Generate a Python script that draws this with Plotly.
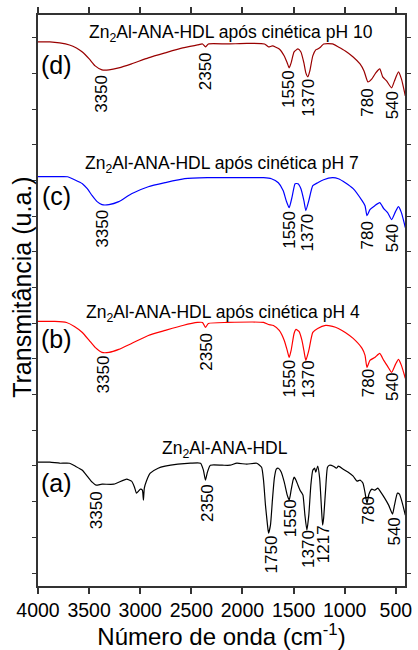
import plotly.graph_objects as go

# FTIR spectra, stacked with vertical offsets (transmittance in arbitrary units)
wn_d = [4000, 3884, 3788, 3692, 3624, 3566, 3499, 3441, 3374, 3306, 3210, 3085, 2921, 2757,
        2584, 2439, 2391, 2362, 2333, 2150, 1958, 1784, 1745, 1707, 1640, 1591, 1562, 1543,
        1524, 1495, 1457, 1428, 1399, 1380, 1360, 1341, 1312, 1283, 1264, 1235, 1206, 1119,
        1062, 994, 917, 850, 811, 773, 734, 696, 657, 628, 590, 541, 513, 474, 445, 407]
t_d = [545, 545, 544, 542, 539, 535, 528, 521, 517, 517, 519, 523, 529, 534,
       539, 542, 543, 540, 543, 543, 543.5, 543, 540, 541, 538, 531, 524, 519,
       524, 535, 538, 535, 524, 514, 510, 516, 531, 537, 538, 540, 543, 543,
       540, 536, 530, 523, 516, 505, 508, 514, 518, 510, 506, 499, 506, 515, 508, 491]

wn_c = [4000, 3836, 3711, 3644, 3566, 3518, 3470, 3422, 3374, 3306, 3210, 3085, 2921, 2757,
        2565, 2343, 2054, 1794, 1717, 1649, 1601, 1572, 1543, 1514, 1485, 1457, 1428, 1399,
        1380, 1351, 1312, 1264, 1206, 1119, 1062, 994, 917, 830, 801, 782, 753, 705, 657,
        618, 580, 541, 503, 474, 445, 407]
t_c = [410, 410, 410, 407, 403, 398, 391, 385, 382, 382, 385, 393, 400, 404,
       408, 409, 409, 409, 408, 404, 396, 386, 379, 390, 403, 403, 398, 386,
       376, 386, 401, 404, 407, 409, 408, 404, 398, 386, 381, 371, 377, 381, 384,
       378, 374, 367, 375, 380, 374, 359]

wn_b = [4000, 3836, 3721, 3644, 3566, 3499, 3441, 3374, 3306, 3210, 3085, 2921, 2757, 2584,
        2439, 2391, 2362, 2333, 2150, 1794, 1745, 1697, 1640, 1591, 1562, 1543, 1524, 1495,
        1476, 1447, 1418, 1399, 1380, 1351, 1312, 1264, 1187, 1119, 1062, 994, 917, 830,
        801, 782, 753, 705, 657, 618, 580, 541, 503, 474, 445, 407]
t_b = [265, 265, 264, 260, 254, 246, 239, 234, 234, 237, 243, 251, 256, 261,
       264, 264, 259, 263, 264, 264, 262, 261, 256, 246, 236, 229, 236, 253,
       257, 255, 246, 236, 226, 236, 254, 258, 261, 260, 258, 254, 248, 238,
       231, 219, 226, 229, 233, 226, 220, 214, 222, 227, 221, 208]

wn_a = [4000, 3884, 3788, 3692, 3634, 3566, 3518, 3470, 3432, 3374, 3258, 3133, 3085, 3056,
        3037, 3017, 2998, 2979, 2969, 2960, 2940, 2902, 2825, 2757, 2632, 2507, 2410, 2382,
        2362, 2343, 2314, 2198, 2121, 2054, 1958, 1861, 1813, 1794, 1775, 1755, 1745, 1726,
        1707, 1688, 1669, 1649, 1620, 1591, 1562, 1543, 1524, 1505, 1495, 1476, 1457, 1437,
        1418, 1408, 1389, 1370, 1351, 1331, 1312, 1293, 1283, 1264, 1245, 1226, 1216, 1206,
        1187, 1168, 1148, 1110, 1081, 1062, 1014, 965, 917, 879, 850, 821, 802, 782, 763,
        734, 705, 676, 647, 609, 570, 532, 513, 484, 464, 436, 407]
t_a = [124, 124, 123, 123, 120, 116, 110, 104, 101, 102, 102, 107, 105, 99,
       93, 95, 97, 96, 86, 98, 105, 113, 118, 120, 122, 123, 123, 116,
       106, 114, 121, 121, 121, 123, 122, 123, 119, 106, 81, 61, 53, 61,
       86, 108, 117, 118, 114, 104, 91, 86, 96, 106, 109, 106, 101, 96,
       93, 91, 71, 56, 71, 101, 116, 118, 114, 120, 108, 76, 61, 68,
       96, 119, 121, 120, 118, 120, 117, 114, 110, 105, 106, 103, 94, 83, 92,
       97, 96, 98, 94, 88, 81, 72, 81, 93, 92, 83, 71]

spectra = [
    (wn_a, t_a, "black"),
    (wn_b, t_b, "#ff0000"),
    (wn_c, t_c, "#0000ff"),
    (wn_d, t_d, "#990000"),
]

# band labels: (text, wavenumber position, height)
bands_d = [("3350", 3374, 493), ("2350", 2353, 516), ("1550", 1543, 498),
           ("1370", 1351, 489), ("780", 773, 484), ("540", 532, 481)]
bands_c = [("3350", 3364, 358), ("1550", 1543, 357), ("1370", 1360, 354),
           ("780", 773, 351), ("540", 532, 348)]
bands_b = [("3350", 3364, 212), ("2350", 2353, 235), ("1550", 1543, 208),
           ("1370", 1351, 207), ("780", 773, 203), ("540", 532, 199)]
bands_a = [("3350", 3432, 76), ("2350", 2348, 83), ("1750", 1717, 32), ("1550", 1534, 68),
           ("1370", 1360, 37), ("1217", 1211, 42), ("780", 768, 76), ("540", 513, 55)]

sample_titles = [
    ("Zn<sub>2</sub>Al-ANA-HDL após cinética pH 10", 2112, 553),
    ("Zn<sub>2</sub>Al-ANA-HDL após cinética pH 7", 2198, 422),
    ("Zn<sub>2</sub>Al-ANA-HDL após cinética pH 4", 2189, 273),
    ("Zn<sub>2</sub>Al-ANA-HDL", 2174, 137),
]
letters = [("(d)", 3817, 522), ("(c)", 3817, 391), ("(b)", 3817, 247), ("(a)", 3817, 103)]

xticks = [4000, 3500, 3000, 2500, 2000, 1500, 1000, 500]

FONT = "Arial, Liberation Sans, sans-serif"
fig = go.Figure()
for wn, t, color in spectra:
    fig.add_trace(go.Scatter(x=wn, y=t, mode="lines",
                             line=dict(color=color, width=1.2, shape="spline", smoothing=0.5),
                             showlegend=False, hoverinfo="skip"))

annotations = []
for group in (bands_d, bands_c, bands_b, bands_a):
    for txt, x, y in group:
        annotations.append(dict(x=x, y=y, text=txt, textangle=-90, showarrow=False,
                                xanchor="center", yanchor="middle",
                                font=dict(family=FONT, size=17, color="black")))
for txt, x, y in sample_titles:
    annotations.append(dict(x=x, y=y, text=txt, showarrow=False,
                            xanchor="center", yanchor="middle",
                            font=dict(family=FONT, size=17.5, color="black")))
for txt, x, y in letters:
    annotations.append(dict(x=x, y=y, text=txt, showarrow=False,
                            xanchor="center", yanchor="middle",
                            font=dict(family=FONT, size=25, color="black")))
annotations.append(dict(xref="paper", yref="paper", x=-0.0456, y=0.5227,
                        xanchor="center", yanchor="middle",
                        text="Transmitância (u.a.)", textangle=-90, showarrow=False,
                        font=dict(family=FONT, size=25, color="black")))

fig.update_layout(
    width=418, height=650,
    margin=dict(l=38, r=7, t=14, b=64),
    paper_bgcolor="white", plot_bgcolor="white",
    annotations=annotations,
    xaxis=dict(range=[4000, 410], tickvals=xticks, ticktext=[str(v) for v in xticks],
               ticks="outside", ticklen=6, tickwidth=1.5, tickcolor="#333",
               showline=True, linecolor="#333", linewidth=1.5, mirror="ticks",
               showgrid=False, zeroline=False,
               tickfont=dict(family=FONT, size=19.5, color="black"),
               title=dict(text="Número de onda (cm<sup>-1</sup>)", standoff=4,
                          font=dict(family=FONT, size=24, color="black"))),
    yaxis=dict(range=[0, 572], tick0=13, dtick=35.75,
               ticks="outside", ticklen=4, tickwidth=1.2, tickcolor="#333",
               showticklabels=False,
               showline=True, linecolor="#333", linewidth=1.5, mirror="ticks",
               showgrid=False, zeroline=False),
)

fig.write_html("out.html")
